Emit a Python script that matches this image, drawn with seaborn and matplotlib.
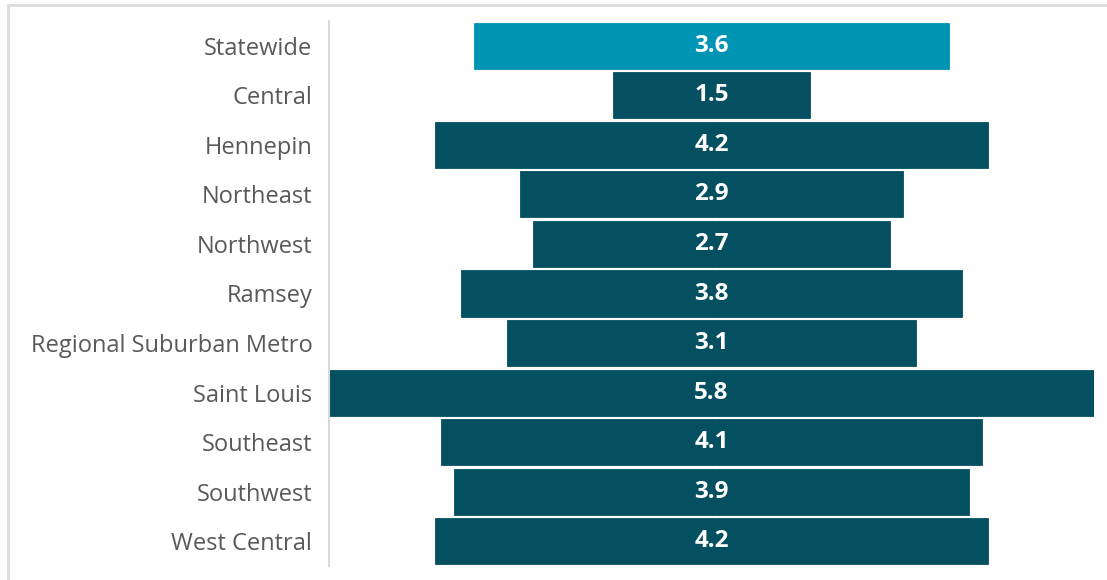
import matplotlib
matplotlib.use("Agg")
import matplotlib.pyplot as plt
import matplotlib.patches as mpatches
import pandas as pd
import seaborn as sns

# 資料
regions = ["Statewide", "Central", "Hennepin", "Northeast", "Northwest", "Ramsey",
           "Regional Suburban Metro", "Saint Louis", "Southeast", "Southwest", "West Central"]
values = [3.6, 1.5, 4.2, 2.9, 2.7, 3.8, 3.1, 5.8, 4.1, 3.9, 4.2]
highlight = "Statewide"

sns.set_theme(style="white")
plt.rcParams['font.family'] = ['Open Sans', 'DejaVu Sans']

df = pd.DataFrame({"Region": regions, "Value": values})
df["Half"] = df["Value"] / 2
df["NegHalf"] = -df["Value"] / 2

palette = {r: ("#0094B4" if r == highlight else "#045060") for r in regions}

fig = plt.figure(figsize=(11.07, 5.8), dpi=100)
ax = fig.add_axes([329 / 1107, 1 - 566 / 580, (1094 - 329) / 1107, (566 - 21) / 580])

# 以 0 為中心的對稱條形 (左右各半)
for col in ["Half", "NegHalf"]:
    sns.barplot(data=df, x=col, y="Region", hue="Region", palette=palette,
                order=regions, legend=False, width=0.93, ax=ax,
                linewidth=0.6, saturation=1)
for p in ax.patches:
    p.set_edgecolor(p.get_facecolor())

for i, v in enumerate(values):
    ax.text(0, i, f"{v:.1f}", ha="center", va="center", color="white",
            fontsize=17.5, fontweight="bold")

half_max = max(values) / 2
ax.set_xlim(-half_max, half_max)
ax.set_ylim(len(regions) - 0.5, -0.5)
ax.set_xlabel("")
ax.set_ylabel("")
ax.set_xticks([])
ax.tick_params(axis="y", length=0, pad=12, labelsize=17, labelcolor="#595959")
for s in ["top", "right", "bottom"]:
    ax.spines[s].set_visible(False)
ax.spines["left"].set_color("#d9d9d9")
ax.spines["left"].set_linewidth(1.5)

# 外框
border = mpatches.Rectangle((8 / 1107, -0.2), 1.2, 1.2 - 5 / 580,
                            transform=fig.transFigure, fill=False,
                            edgecolor="#dcdcdc", linewidth=2)
fig.patches.append(border)

fig.savefig("out.png", dpi=100)
